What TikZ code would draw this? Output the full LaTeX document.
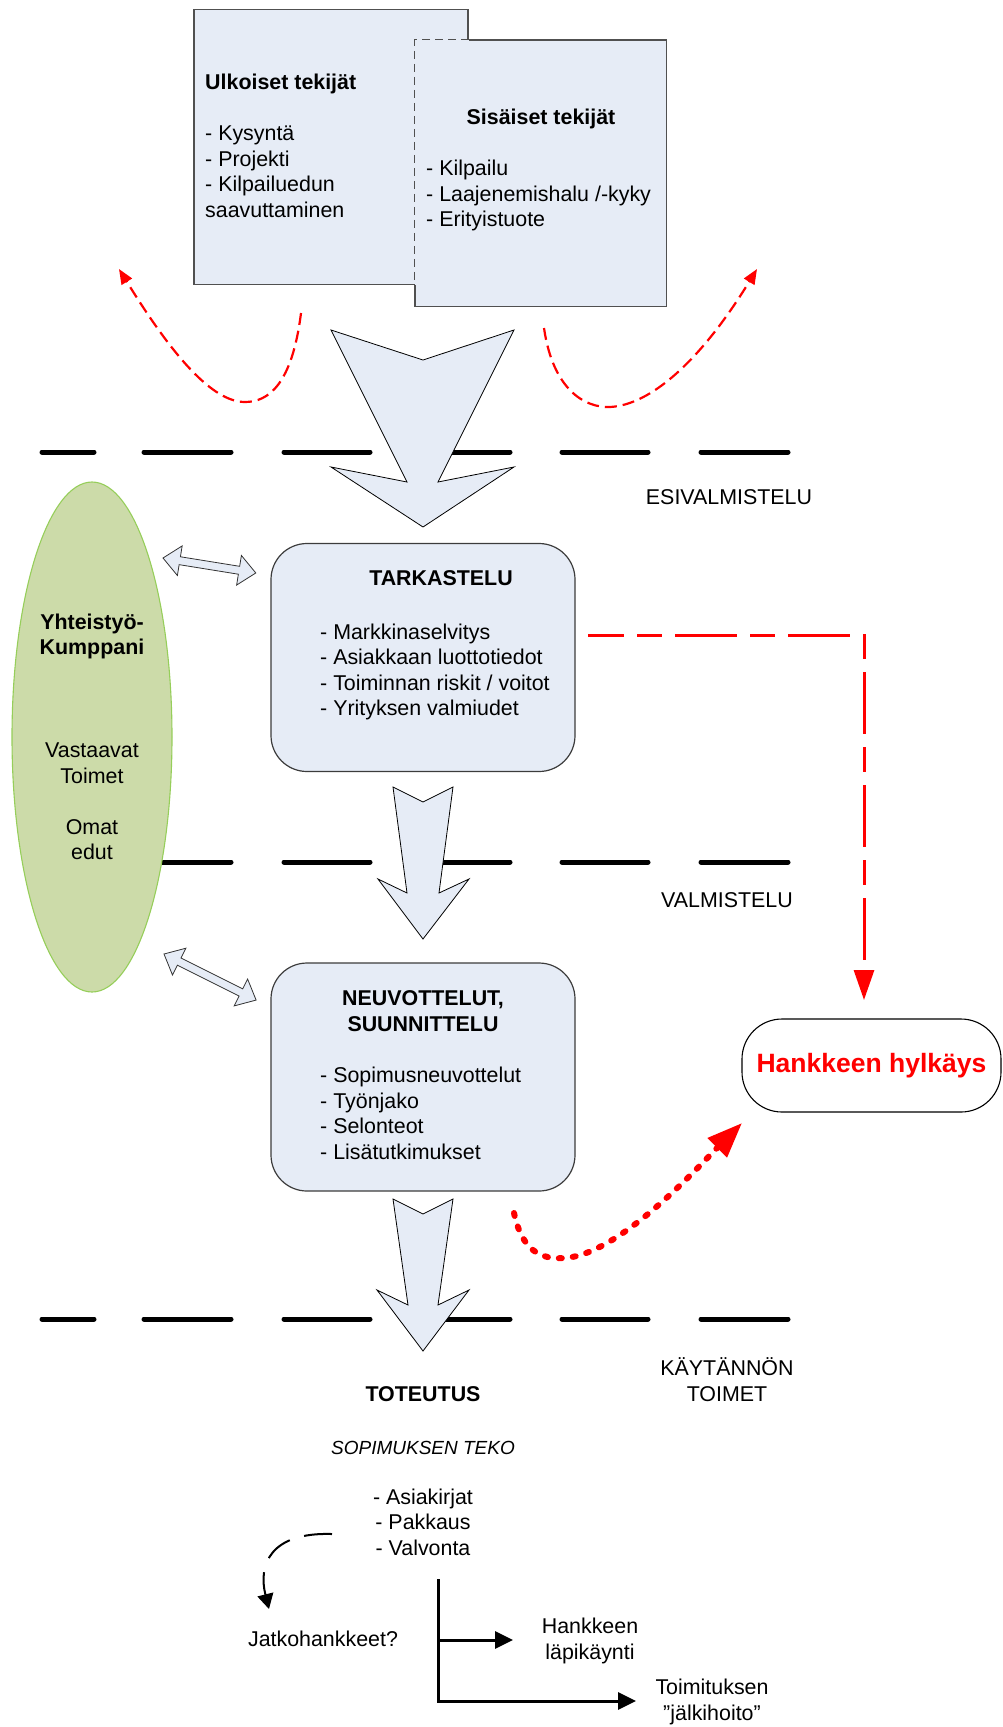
\documentclass[tikz,border=0pt]{standalone}
\usepackage{fontspec}
\setmainfont{Liberation Sans}
\usetikzlibrary{arrows.meta,shapes.geometric}
\definecolor{boxfill}{RGB}{230,236,246}
\definecolor{partnerfill}{RGB}{204,219,169}
\definecolor{partnerline}{RGB}{150,206,90}
\definecolor{boxline}{RGB}{80,80,80}
\definecolor{stageline}{RGB}{60,60,60}
\begin{document}
\begin{tikzpicture}[x=1pt,y=-1pt,
  txt/.style={inner sep=0pt, font=\fontsize{21.4}{25.5}\selectfont},
  phaseline/.style={line width=5pt, line cap=round},
  factorbox/.style={draw=boxline, fill=boxfill, line width=1.4pt, inner sep=0pt},
  factorfill/.style={fill=boxfill, inner sep=0pt},
  stagebox/.style={draw=stageline, fill=boxfill, line width=1.2pt, rounded corners=36pt,
    minimum width=304pt, minimum height=228pt, inner sep=0pt},
  partner/.style={ellipse, draw=partnerline, fill=partnerfill, line width=1.1pt,
    minimum width=160pt, minimum height=510pt, inner sep=0pt},
  chevron/.style={draw=black, fill=boxfill, line width=0.8pt, line join=miter},
  dblarrow/.style={draw=black!80, fill=boxfill, line width=0.8pt},
  rejectbox/.style={draw=black, fill=white, line width=1.1pt, rounded corners=40pt,
    minimum width=259pt, minimum height=93pt, inner sep=0pt, text=red,
    font=\fontsize{26.5}{30}\selectfont\bfseries},
  reddash/.style={red, line width=2.2pt, dash pattern=on 12pt off 6pt,
    -{Triangle[length=15pt,width=12pt]}},
  rejline/.style={red, line width=3pt, dash pattern=on 62pt off 13pt on 25pt off 13pt,
    dash phase=26pt, -{Triangle[length=30pt,width=20pt]}},
  reddots/.style={red, line width=6pt, line cap=round, dash pattern=on 3pt off 11pt,
    -{Triangle[length=35pt,width=26pt]}},
  loopback/.style={black, line width=2pt, dash pattern=on 28pt off 15pt,
    -{Triangle[length=15pt,width=16pt]}},
  outarrow/.style={black, line width=3pt, -{Triangle[length=18pt,width=17pt]}}
]
\useasboundingbox (0,0) rectangle (1003,1727);

% phase separators
\foreach \yy in {452,862,1319}{
  \foreach \xa/\xb in {42/94,144/231,284/370,422/510,562/648,701/788}
    \draw[phaseline] (\xa,\yy) -- (\xb,\yy);
}

% external and internal factors
\node[factorbox, minimum width=274pt, minimum height=275pt] (ulk) at (331,147) {};
\node[factorfill, minimum width=251pt, minimum height=266pt] (sis) at (540.5,173) {};
\draw[boxline, line width=1.4pt] (sis.west |- ulk.south) -- (sis.south west) -- (sis.south east)
  -- (sis.north east) -- (ulk.east |- sis.north);
\draw[boxline, line width=1.2pt, dash pattern=on 8pt off 5pt] (ulk.east |- sis.north)
  -- (sis.north west) -- (sis.west |- ulk.south);

% multi-line texts are anchored at the baseline of their last line
\node[txt, anchor=base west, align=left] (ulktxt) at (205,217)
  {\textbf{Ulkoiset tekijät}\\[25.5pt]- Kysyntä\\- Projekti\\- Kilpailuedun\\saavuttaminen};
\node[txt, anchor=base] (sistitle) at (541,124.5) {\textbf{Sisäiset tekijät}};
\node[txt, anchor=base west, align=left] (sistxt) at (426,226.5)
  {- Kilpailu\\- Laajenemishalu /-kyky\\- Erityistuote};

% side arcs next to the factors
\coordinate (lsA) at (301,313);
\coordinate (lsB) at (119,269);
\coordinate (rsA) at (544,328);
\coordinate (rsB) at (757,269);
\draw[reddash] (lsA) .. controls (292,385) and (268,402) .. (245,402)
  .. controls (212,402) and (172,355) .. (lsB);
\draw[reddash] (rsA) .. controls (553,390) and (585,408) .. (610,407)
  .. controls (650,405) and (700,362) .. (rsB);

% big flow arrows
\draw[chevron] (331,330) -- (423,360) -- (514,330) -- (438,482) -- (514,467)
  -- (423,527) -- (331,467) -- (407,482) -- cycle;
\draw[chevron] (393,787) -- (423,802) -- (453,787) -- (439,893) -- (469,879)
  -- (423,939) -- (378,879) -- (407,893) -- cycle;
\draw[chevron] (393,1199) -- (423,1214) -- (453,1199) -- (438,1305) -- (469,1290)
  -- (423,1351) -- (377,1290) -- (408,1305) -- cycle;

% partner
\node[partner] (kump) at (92,737) {};
\node[txt, anchor=base, align=center] (kumptxt) at (92,859.5)
  {\textbf{Yhteistyö-}\\\textbf{Kumppani}\\[77.5pt]Vastaavat\\Toimet\\[25.5pt]Omat\\edut};

% two-way links between partner and stages
\begin{scope}[shift={(163,558)}, rotate=-9.16]
  \draw[dblarrow] (0,0) -- (17,-15) -- (17,-4) -- (77,-4) -- (77,-15) -- (94,0)
    -- (77,15) -- (77,4) -- (17,4) -- (17,15) -- cycle;
\end{scope}
\begin{scope}[shift={(164,954)}, rotate=-26.57]
  \draw[dblarrow] (0,0) -- (17,-15) -- (17,-4) -- (86,-4) -- (86,-15) -- (103,0)
    -- (86,15) -- (86,4) -- (17,4) -- (17,15) -- cycle;
\end{scope}

% stages
\node[stagebox] (tark) at (423,657.5) {};
\node[txt, anchor=base] (tarktitle) at (441,585.5) {\textbf{TARKASTELU}};
\node[txt, anchor=base west, align=left] (tarktxt) at (320,715.5)
  {- Markkinaselvitys\\- Asiakkaan luottotiedot\\- Toiminnan riskit / voitot\\- Yrityksen valmiudet};

\node[stagebox] (neuv) at (423,1077) {};
\node[txt, anchor=base, align=center] (neuvtitle) at (423,1031)
  {\textbf{NEUVOTTELUT,}\\\textbf{SUUNNITTELU}};
\node[txt, anchor=base west, align=left] (neuvtxt) at (320,1159)
  {- Sopimusneuvottelut\\- Työnjako\\- Selonteot\\- Lisätutkimukset};

% phase names
\node[txt, anchor=base] (ph1) at (729,504) {ESIVALMISTELU};
\node[txt, anchor=base] (ph2) at (727,907.5) {VALMISTELU};
\node[txt, anchor=base, align=center] (ph3) at (727,1401) {KÄYTÄNNÖN\\TOIMET};

% rejection
\node[rejectbox] (hylk) at (871.5,1065.5) {Hankkeen hylkäys};
\coordinate (rejstart) at (588,635);
\coordinate (rejend) at (864,1000);
\draw[rejline] (rejstart) -| (rejend);
\coordinate (dotstart) at (514,1213);
\coordinate (dotend) at (742,1123);
\draw[reddots] (dotstart) .. controls (522,1250) and (540,1260) .. (565,1258)
  .. controls (620,1254) and (700,1165) .. (dotend);

% implementation
\node[txt, anchor=base] (tot) at (423,1401) {\textbf{TOTEUTUS}};
\node[inner sep=0pt, anchor=base, font=\fontsize{19}{23}\selectfont\itshape] (teko) at (423,1454)
  {SOPIMUKSEN TEKO};
\node[txt, anchor=base, align=center] (totlist) at (423,1555)
  {- Asiakirjat\\- Pakkaus\\- Valvonta};
\node[txt, anchor=base] (jatko) at (323,1646) {Jatkohankkeet?};
\node[txt, anchor=base, align=center] (lapi) at (590,1659) {Hankkeen\\läpikäynti};
\node[txt, anchor=base, align=center] (jalki) at (712,1720) {Toimituksen\\”jälkihoito”};

\coordinate (loopA) at (332,1534);
\coordinate (loopB) at (269,1609);
\draw[loopback] (loopA) .. controls (270,1532) and (258,1565) .. (loopB);

\coordinate (ltop) at (438,1579);
\coordinate (lmid) at (438,1640);
\coordinate (lbot) at (438,1701);
\coordinate (lapitip) at (513,1640);
\coordinate (jalkitip) at (636,1701);
\draw[outarrow] (ltop) -- (lbot) -- (jalkitip);
\draw[outarrow] (lmid) -- (lapitip);
\end{tikzpicture}
\end{document}
